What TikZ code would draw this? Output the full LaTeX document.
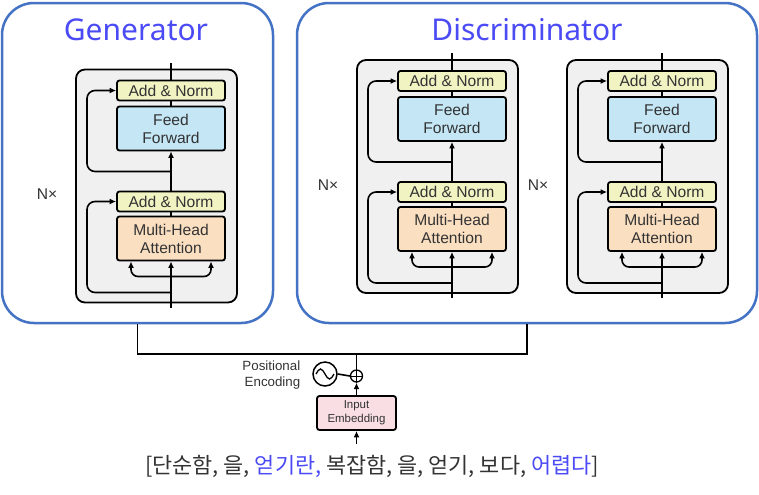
\documentclass[tikz,border=0pt]{standalone}
\usepackage{fontspec}
\setmainfont{Liberation Sans}
\newfontfamily\krfont{Noto Sans CJK KR}
\newfontfamily\titlefont{Noto Sans}
\usetikzlibrary{arrows.meta,calc}
\definecolor{obl}{HTML}{4472C4}
\definecolor{ttl}{HTML}{4B4BF5}
\definecolor{anc}{HTML}{F2F3C3}
\definecolor{ffc}{HTML}{C4E6F5}
\definecolor{mhc}{HTML}{FBDFC1}
\definecolor{iec}{HTML}{F9DEE4}
\definecolor{gbx}{HTML}{F0F0F0}
\definecolor{txt}{HTML}{333333}
\tikzset{
 outerbox/.style={draw=obl, line width=1.875pt, rounded corners=24pt, fill=white, inner sep=0pt},
 innerbox/.style={draw=black, line width=1.35pt, rounded corners=6.75pt, fill=gbx, inner sep=0pt},
 blk/.style={draw=black, line width=1.35pt, rounded corners=1.875pt, minimum width=81pt, inner sep=0pt, text=txt, font=\fontsize{11.7}{13.5}\selectfont, align=center},
 an/.style={blk, fill=anc, minimum height=15pt},
 big/.style={blk, minimum height=33pt},
 ln/.style={line width=1.2pt, draw=black},
 arr/.style={ln, -{Latex[length=4.8pt,width=4.4pt]}},
 nxlab/.style={text=txt, font=\fontsize{11.7}{13.5}\selectfont},
 ttlab/.style={text=ttl, font=\titlefont\fontsize{22.5}{24}\selectfont},
}
\newcommand\tstack[3]{%
\begin{scope}[shift={(#2,#3)}]
 \node[innerbox, minimum width=120.75pt, minimum height=174.75pt] (#1box) at (-14.5,176.5) {};
 \node[an] (#1an2) at (0,81) {Add \& Norm};
 \node[big, fill=ffc] (#1ff) at (0,119) {Feed\\Forward};
 \node[an] (#1an1) at (0,192) {Add \& Norm};
 \node[big, fill=mhc] (#1mh) at (0,229) {Multi-Head\\Attention};
 \node[nxlab] (#1nx) at (-124,185) {N×};
 \coordinate (#1top) at (0,53);
 \coordinate (#1bot) at (0,298);
 \coordinate (#1rb) at (0,162);
 \coordinate (#1ra) at (0,283);
 \coordinate (#1br) at (0,267);
 \draw[arr] (#1bot) -- (#1mh.south);
 \draw[ln] (#1mh.north) -- (#1an1.south);
 \draw[arr] (#1an1.north) -- (#1ff.south);
 \draw[ln] (#1ff.north) -- (#1an2.south);
 \draw[ln] (#1an2.north) -- (#1top);
 \draw[arr, rounded corners=6pt] (#1rb) -- ++(-84,0) |- (#1an2.west);
 \draw[arr, rounded corners=6pt] (#1ra) -- ++(-84,0) |- (#1an1.west);
 \draw[arr, rounded corners=5.25pt] (#1br) -| ($(#1mh.south)+(-40,0)$);
 \draw[arr, rounded corners=5.25pt] (#1br) -| ($(#1mh.south)+(40,0)$);
\end{scope}}
\begin{document}
\begin{tikzpicture}[x=0.75pt,y=-0.75pt]
\useasboundingbox (0,0) rectangle (759,494);
\node[outerbox, minimum width=203.25pt, minimum height=240pt] (gen) at (137.5,163) {};
\node[outerbox, minimum width=345pt, minimum height=240pt] (disc) at (527,163) {};
\node[ttlab] (gtitle) at (136,30) {Generator};
\node[ttlab] (dtitle) at (527,30) {Discriminator};
\tstack{g}{171}{9.5}
\tstack{da}{452}{0}
\tstack{db}{662}{0}
% bottom part
\node[circle, draw, line width=0.975pt, minimum size=9pt, inner sep=0pt, fill=white] (pl) at (356.5,376) {};
\draw[line width=0.75pt] (pl.north) -- (pl.south);
\draw[line width=0.75pt] (pl.west) -- (pl.east);
\node[circle, draw, line width=1.125pt, minimum size=18pt, inner sep=0pt] (pe) at (325,374) {};
\draw[line width=0.975pt] ($(pe.center)+(-9,0)$) sin ++(4.5,-5) cos ++(4.5,5) sin ++(4.5,5) cos ++(4.5,-5);
\draw[ln] (pe.east) -- (pl.west);
\node[anchor=east, align=right, text=txt, font=\fontsize{10}{12}\selectfont] (pelab) at (305,375) {Positional\\Encoding};
\node[draw=black, line width=1.35pt, rounded corners=1.875pt, fill=iec, minimum width=59.25pt, minimum height=25.5pt, inner sep=0pt, align=center, text=txt, font=\fontsize{8.6}{10.5}\selectfont] (ie) at (356.5,413) {Input\\Embedding};
\coordinate (ie0) at (356.5,444);
\draw[arr] (ie0) -- (ie.south);
\draw[arr] (ie.north) -- (pl.south);
\draw[ln] (gen.south) -- ++(0,30) coordinate (gj) -| (disc.south);
\draw[ln] (pl.north) -- (pl.north |- gj);
\node[text=txt, font=\krfont\fontsize{16.4}{18}\selectfont] (kr) at (372,466) {[단순함, 을, \textcolor{ttl}{얻기란,} 복잡함, 을, 얻기, 보다, \textcolor{ttl}{어렵다}]};
\end{tikzpicture}
\end{document}
